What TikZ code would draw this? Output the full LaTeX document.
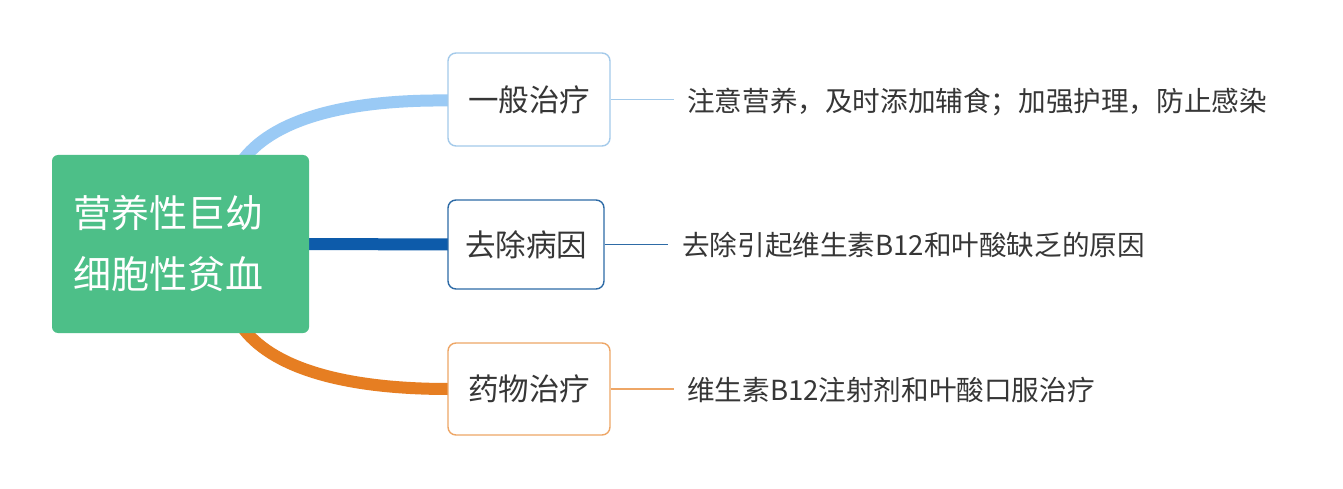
\documentclass[tikz,border=0pt]{standalone}
\usepackage{fontspec}
\setmainfont{Noto Sans CJK SC}
\usetikzlibrary{calc}
\pgfdeclarelayer{background}
\pgfsetlayers{background,main}
\definecolor{rootgreen}{HTML}{4DBF88}
\definecolor{lblue}{HTML}{9ACAF5}
\definecolor{lblueb}{HTML}{A4CAEA}
\definecolor{dblue}{HTML}{0D5BAA}
\definecolor{dblueb}{HTML}{2E6BA6}
\definecolor{orng}{HTML}{E67E22}
\definecolor{orngb}{HTML}{EEA666}
\definecolor{txt}{HTML}{363636}
\begin{document}
\begin{tikzpicture}[x=1pt,y=-1pt,
  rootbox/.style={fill=rootgreen, rounded corners=6pt, minimum width=257pt, minimum height=178pt,
    text=white, text width=215pt, inner xsep=21pt, align=left,
    font=\fontsize{38}{61}\selectfont},
  subbox/.style={draw=#1, fill=white, line width=1.4pt, rounded corners=8pt,
    text=txt, font=\fontsize{30.5}{36}\selectfont, inner sep=0pt},
  leaf/.style={anchor=west, inner sep=0pt, text=txt, font=\fontsize{27.6}{32}\selectfont},
  branch/.style={line width=12pt, draw=#1},
  twig/.style={line width=1.2pt, draw=#1}
]
\useasboundingbox (0,0) rectangle (1343,489);

\node[rootbox] (root) at (180.5,244) {营养性巨幼\\细胞性贫血};
\node[subbox=lblueb, minimum width=162pt, minimum height=93pt] (b1) at (529,99.5) {一般治疗};
\node[subbox=dblueb, minimum width=156pt, minimum height=89pt] (b2) at (526,244.5) {去除病因};
\node[subbox=orngb, minimum width=162pt, minimum height=92pt] (b3) at (529,389) {药物治疗};

\node[leaf] (l1) at (687,102) {注意营养，及时添加辅食；加强护理，防止感染};
\node[leaf] (l2) at (682,245) {去除引起维生素B12和叶酸缺乏的原因};
\node[leaf] (l3) at (687,390) {维生素B12注射剂和叶酸口服治疗};

\begin{pgfonlayer}{background}
\fill[white] (0,0) rectangle (1343,489);
\draw[branch=lblue] ($(root.north west)+(192,4)$) .. controls ($(root.north west)+(225,-38)$) and ($(b1.west)+(-95,0)$) .. ($(b1.west)+(1,1)$);
\draw[branch=dblue] ($(root.east)+(-1,0)$) -- ($(b2.west)+(1,0)$);
\draw[branch=orng] ($(root.south west)+(192,-4)$) .. controls ($(root.south west)+(225,38)$) and ($(b3.west)+(-95,0)$) .. ($(b3.west)+(1,0)$);
\end{pgfonlayer}

\draw[twig=lblueb] (b1.east) -- ($(b1.east)+(63,0)$);
\draw[twig=dblueb] (b2.east) -- ($(b2.east)+(63,0)$);
\draw[twig=orngb] (b3.east) -- ($(b3.east)+(63,0)$);
\end{tikzpicture}
\end{document}
